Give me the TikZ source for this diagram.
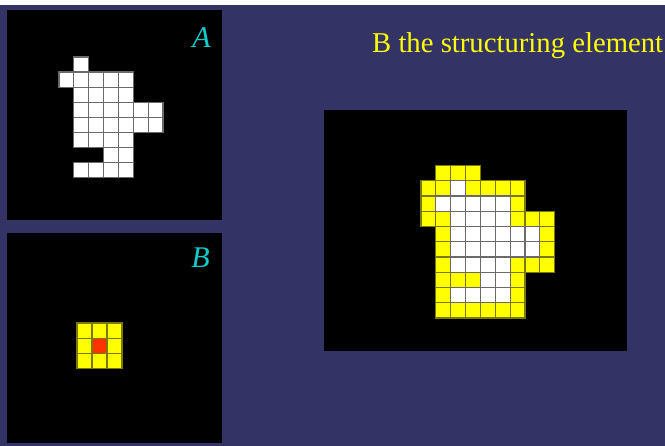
\documentclass[tikz,border=0pt]{standalone}
\usepackage{fontspec}
\setmainfont{Liberation Serif}
\usepackage{xcolor}
\usepackage{tikz}
\usetikzlibrary{positioning}
\definecolor{morph-navy}{HTML}{333366}
\definecolor{morph-cyan}{HTML}{11CCCC}
\definecolor{morph-yellow}{HTML}{FFFF00}
\definecolor{morph-red}{HTML}{FF3300}
\definecolor{morph-edge}{HTML}{6A6A6A}
\definecolor{morph-olive}{HTML}{7A7A00}

\begin{document}
\begin{tikzpicture}[
    x=1pt, y=-1pt,
    panel/.style={fill=black},
    whitecell/.style={fill=white, draw=morph-edge, line width=1.2pt},
    yellowcell/.style={fill=morph-yellow, draw=morph-olive, line width=1.2pt},
    redcell/.style={fill=morph-red, draw=morph-olive, line width=1.2pt},
    setlabel/.style={font=\fontsize{30}{31}\selectfont\itshape, text=morph-cyan, inner sep=0pt},
]
    \useasboundingbox (0, 0) rectangle (665, 446);

    % Background
    \fill[white] (0, 0) rectangle (665, 5);
    \fill[morph-navy] (0, 5) rectangle (665, 446);

    % Panels
    \fill[panel] (7, 10) rectangle (222, 220);
    \fill[panel] (7, 233) rectangle (222, 443);
    \fill[panel] (324, 110) rectangle (627, 351);

    % Set A
    \foreach \r/\cols in {0/{1}, 1/{0,...,4}, 2/{1,...,4}, 3/{1,...,6},
                          4/{1,...,6}, 5/{1,...,4}, 6/{3,4}, 7/{1,...,4}}
        \foreach \c in \cols
            \draw[whitecell] (59 + 14.85*\c, 57 + 15.1*\r) rectangle +(14.85, 15.1);
    \node[setlabel, anchor=base east] (labelA) at (211, 48) {A};

    % Structuring element B
    \foreach \r in {0, 1, 2}
        \foreach \c in {0, 1, 2}
            \draw[yellowcell] (77 + 15*\c, 323 + 15.3*\r) rectangle +(15, 15.3);
    \draw[redcell] (92, 338.3) rectangle +(15, 15.3);
    \node[setlabel, anchor=base east] (labelB) at (210, 268) {B};

    % Dilation of A by B
    \foreach \r/\cols in {0/{1,...,3}, 1/{0,...,6}, 2/{0,...,6}, 3/{0,...,8},
                          4/{1,...,8}, 5/{1,...,8}, 6/{1,...,8}, 7/{1,...,6},
                          8/{1,...,6}, 9/{1,...,6}}
        \foreach \c in \cols
            \draw[yellowcell] (421 + 14.85*\c, 165.5 + 15.25*\r) rectangle +(14.85, 15.25);
    \foreach \r/\cols in {1/{2}, 2/{1,...,5}, 3/{2,...,5}, 4/{2,...,7},
                          5/{2,...,7}, 6/{2,...,5}, 7/{4,5}, 8/{2,...,5}}
        \foreach \c in \cols
            \draw[whitecell] (421 + 14.85*\c, 165.5 + 15.25*\r) rectangle +(14.85, 15.25);

    % Title
    \node[font=\fontsize{28.7}{30}\selectfont, text=morph-yellow, anchor=base west, inner sep=0pt]
        (title) at (372, 53) {B the structuring element};
\end{tikzpicture}
\end{document}
